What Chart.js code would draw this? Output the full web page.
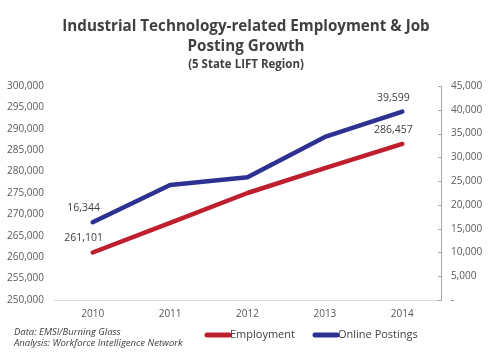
<!DOCTYPE html>
<html>
<head>
<meta charset="utf-8">
<script src="https://cdn.jsdelivr.net/npm/chart.js@4"></script>
<style>
  html, body { margin: 0; padding: 0; background: #fff; }
  #wrap { width: 500px; height: 360px; position: relative; }
</style>
</head>
<body>
<div id="wrap"><canvas id="jobChart" width="500" height="360"></canvas></div>
<script>
// Chart data
var years = ["2010", "2011", "2012", "2013", "2014"];
var employment = [261101, 268000, 275000, 280800, 286457];
var postings = [16344, 24200, 25800, 34300, 39599];
var seriesNames = ["Employment", "Online Postings"];
var titleLines = ["Industrial Technology-related Employment & Job", "Posting Growth"];
var subtitle = "(5 State LIFT Region)";
var sourceLines = ["Data: EMSI/Burning Glass", "Analysis: Workforce Intelligence Network"];

var red = "#BF1E2E";
var blue = "#2E3192";
var textColor = "#404040";
var font = "'Open Sans', sans-serif";

// Title, labels on first/last points, legend, source note
var decorations = {
  id: "decorations",
  afterDraw: function (chart) {
    var ctx = chart.ctx;
    ctx.save();
    ctx.fillStyle = textColor;
    ctx.textAlign = "center";
    ctx.textBaseline = "middle";
    ctx.font = "bold 15.2px " + font;
    ctx.fillText(titleLines[0], 246, 27);
    ctx.fillText(titleLines[1], 246, 47);
    ctx.font = "bold 11.5px " + font;
    ctx.fillText(subtitle, 246, 65);

    // point labels at first and last year
    ctx.font = "10.5px " + font;
    chart.data.datasets.forEach(function (ds, di) {
      var meta = chart.getDatasetMeta(di);
      [0, ds.data.length - 1].forEach(function (i) {
        var pt = meta.data[i];
        ctx.fillText(ds.data[i].toLocaleString("en-US"), pt.x - 9, pt.y - 14);
      });
    });

    // right axis tick marks (inside)
    var y1 = chart.scales.y1;
    ctx.strokeStyle = "#A6A6A6";
    ctx.lineWidth = 1;
    y1.ticks.forEach(function (t) {
      var py = Math.round(y1.getPixelForValue(t.value)) + 0.5;
      ctx.beginPath();
      ctx.moveTo(y1.left - 3, py);
      ctx.lineTo(y1.left, py);
      ctx.stroke();
    });

    // legend
    var legendX = [205, 313];
    ctx.textAlign = "left";
    ctx.font = "11px " + font;
    chart.data.datasets.forEach(function (ds, di) {
      var x = legendX[di];
      ctx.strokeStyle = ds.borderColor;
      ctx.lineWidth = 5;
      ctx.lineCap = "round";
      ctx.beginPath();
      ctx.moveTo(x + 2, 335);
      ctx.lineTo(x + 24, 335);
      ctx.stroke();
      ctx.fillStyle = textColor;
      ctx.fillText(ds.label, x + 25, 335);
    });

    // source note
    ctx.font = "italic 9.5px " + font;
    ctx.fillText(sourceLines[0], 14, 332);
    ctx.fillText(sourceLines[1], 14, 343);
    ctx.restore();
  }
};

var ctx = document.getElementById("jobChart").getContext("2d");
var chart = new Chart(ctx, {
  type: "line",
  data: {
    labels: years,
    datasets: [
      {
        label: seriesNames[0],
        data: employment,
        yAxisID: "y",
        borderColor: red,
        backgroundColor: red,
        borderWidth: 4.5,
        borderCapStyle: "round",
        borderJoinStyle: "round",
        pointRadius: 0,
        tension: 0,
        fill: false
      },
      {
        label: seriesNames[1],
        data: postings,
        yAxisID: "y1",
        borderColor: blue,
        backgroundColor: blue,
        borderWidth: 4.5,
        borderCapStyle: "round",
        borderJoinStyle: "round",
        pointRadius: 0,
        tension: 0,
        fill: false
      }
    ]
  },
  options: {
    responsive: false,
    animation: false,
    layout: { padding: { top: 86, left: 0, right: 0, bottom: 0 } },
    plugins: {
      legend: { display: false },
      title: { display: false },
      tooltip: { enabled: false }
    },
    scales: {
      x: {
        offset: true,
        grid: { display: false, drawTicks: false },
        border: { display: true, color: "#D9D9D9", width: 1 },
        ticks: { color: "#595959", font: { family: font, size: 10 }, padding: 8 },
        afterFit: function (s) { s.height = 60; }
      },
      y: {
        position: "left",
        min: 250000,
        max: 300000,
        grid: { display: false, drawTicks: false },
        border: { display: false },
        ticks: {
          stepSize: 5000,
          color: "#595959",
          padding: 10,
          font: { family: font, size: 10 },
          callback: function (v) { return v.toLocaleString("en-US"); }
        },
        afterFit: function (s) { s.width = 54; }
      },
      y1: {
        position: "right",
        min: 0,
        max: 45000,
        grid: { display: false, drawTicks: false },
        border: { display: true, color: "#A6A6A6", width: 1 },
        ticks: {
          stepSize: 5000,
          color: "#595959",
          padding: 10,
          font: { family: font, size: 10 },
          callback: function (v) { return v === 0 ? "-" : v.toLocaleString("en-US"); }
        },
        afterFit: function (s) { s.width = 59; }
      }
    }
  },
  plugins: [decorations]
});
</script>
</body>
</html>
